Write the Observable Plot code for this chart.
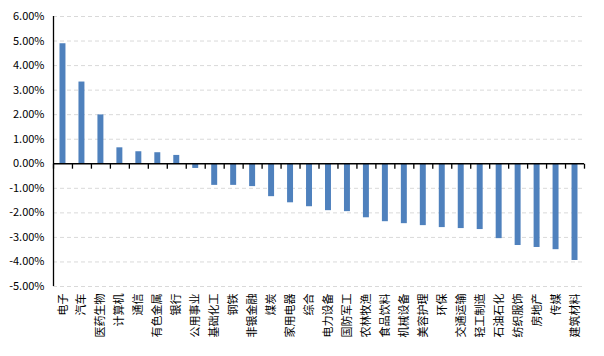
<!DOCTYPE html>
<html><head><meta charset="utf-8">
<script src="https://cdn.jsdelivr.net/npm/d3@7"></script>
<script src="https://cdn.jsdelivr.net/npm/@observablehq/plot@0.6"></script>
<style>body{margin:0;background:#fff;} svg{font-family:"Noto Sans CJK SC","Noto Sans",sans-serif;}</style>
</head><body><div id="chart"></div>
<script>
const categories = ["电子","汽车","医药生物","计算机","通信","有色金属","银行","公用事业","基础化工","钢铁","非银金融","煤炭","家用电器","综合","电力设备","国防军工","农林牧渔","食品饮料","机械设备","美容护理","环保","交通运输","轻工制造","石油石化","纺织服饰","房地产","传媒","建筑材料"];
const values = [4.89,3.33,1.99,0.65,0.49,0.45,0.34,-0.19,-0.88,-0.88,-0.93,-1.34,-1.59,-1.75,-1.91,-1.95,-2.20,-2.36,-2.44,-2.52,-2.60,-2.64,-2.68,-3.05,-3.33,-3.41,-3.50,-3.94];
const yTicks = [-5,-4,-3,-2,-1,0,1,2,3,4,5,6];

const data = categories.map((c,i)=>({c, i, v: values[i]}));
const idx = data.map(d => d.i);
const bounds = [-0.5, ...idx.map(i => i + 0.5)];
const W = 604, H = 356, mL = 53, mR = 20;

const chart = Plot.plot({
  width: W, height: H,
  marginLeft: mL, marginRight: mR, marginTop: 16, marginBottom: 70,
  style: {fontSize: "11px", color: "#000", background: "#fff"},
  x: {domain: [-0.5, categories.length - 0.5], label: null},
  y: {domain: [-5, 6], ticks: yTicks, label: null, tickSize: 0, tickPadding: 9, tickFormat: d => d.toFixed(2) + "%"},
  marks: [
    Plot.gridY(yTicks.filter(d => d !== 0), {stroke: "#d9d9d9", strokeOpacity: 1, strokeDasharray: "4,3"}),
    Plot.rect(data, {x1: d => d.i - 0.5, x2: d => d.i + 0.5, y1: () => 0, y2: "v", fill: "#4f81bd", insetLeft: 6.5, insetRight: 6.5}),
    Plot.ruleY([0], {stroke: "#000", strokeWidth: 1.3}),
    Plot.link(bounds, {x1: d => d, x2: d => d, y1: () => 0, y2: () => -0.2, stroke: "#000", strokeWidth: 1.3}),
    Plot.ruleX([bounds[0]], {stroke: "#000", strokeWidth: 1.3}),
    Plot.axisX(idx, {tickFormat: i => categories[i], tickRotate: -90, tickSize: 0, tickPadding: 7, fontSize: 11, label: null, fill: "#000"})
  ]
});
document.getElementById("chart").append(chart);
</script></body></html>
